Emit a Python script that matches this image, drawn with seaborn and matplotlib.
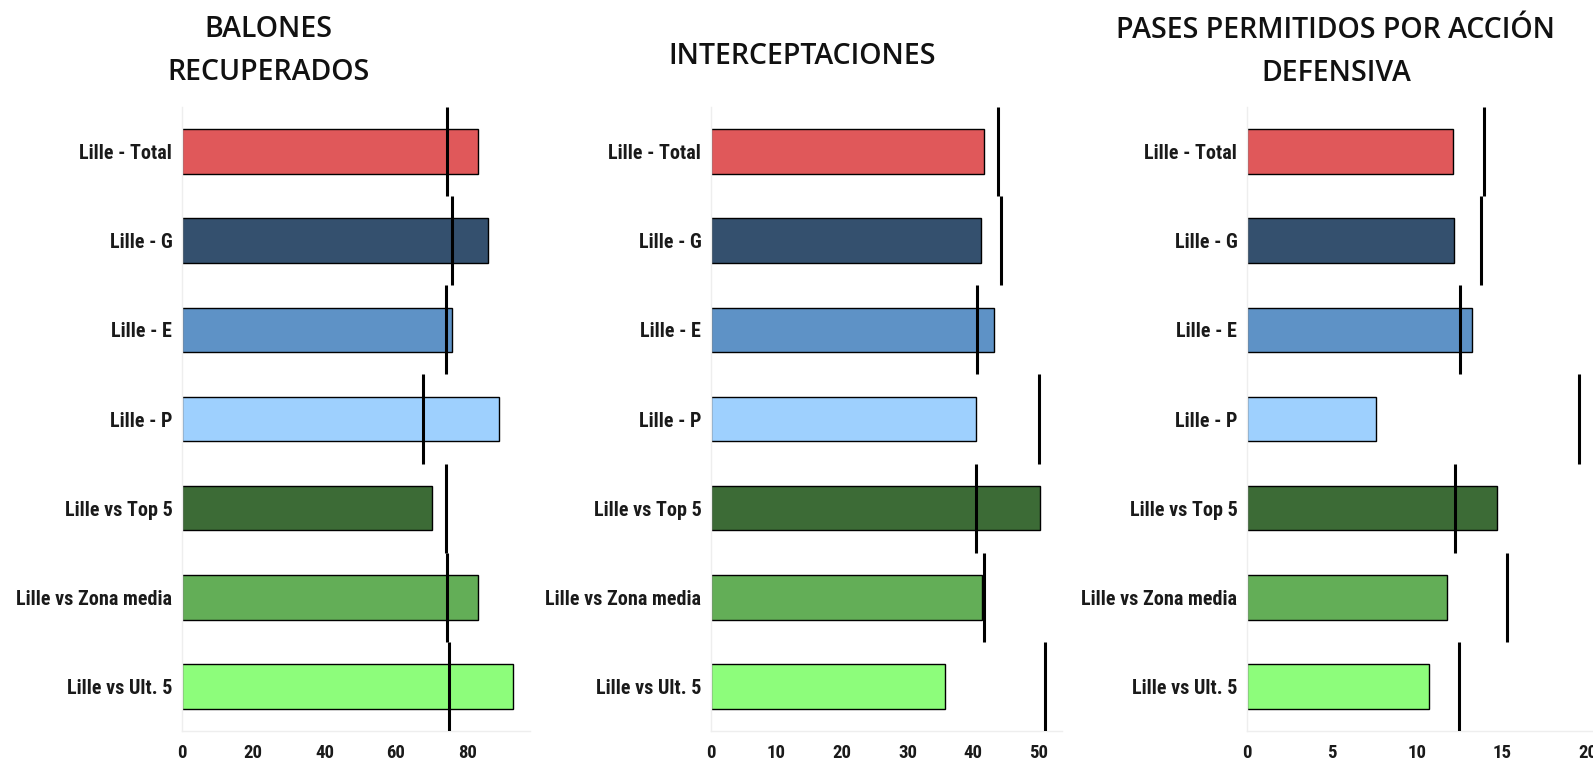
import numpy as np
import pandas as pd
import matplotlib
matplotlib.use('Agg')
import matplotlib.pyplot as plt
import seaborn as sns

# data
equipos = ['Lille - Total', 'Lille - G', 'Lille - E', 'Lille - P',
           'Lille vs Top 5', 'Lille vs Zona media', 'Lille vs Ult. 5']
colores = ['#E0585A', '#34506E', '#5E92C6', '#9ED0FE',
           '#3C6B36', '#63AE57', '#8DFD7B']

recuperados = [83.0, 85.7, 75.8, 88.9, 70.2, 83.0, 92.9]
recuperados_ref = [74.3, 75.6, 74.0, 67.6, 74.0, 74.3, 74.8]

intercepciones = [41.7, 41.2, 43.2, 40.5, 50.2, 41.4, 35.7]
intercepciones_ref = [43.8, 44.2, 40.6, 50.0, 40.4, 41.6, 51.0]

ppda = [12.08, 12.14, 13.24, 7.59, 14.67, 11.73, 10.71]
ppda_ref = [13.92, 13.76, 12.53, 19.53, 12.24, 15.27, 12.43]

titulos = ['BALONES\nRECUPERADOS', 'INTERCEPTACIONES',
           'PASES PERMITIDOS POR ACCIÓN\nDEFENSIVA']

sns.set_style('white')
plt.rcParams['font.family'] = ['Roboto Condensed', 'Roboto', 'DejaVu Sans']
plt.rcParams['font.stretch'] = 'condensed'

W, H = 1593, 759
fig = plt.figure(figsize=(W / 100, H / 100), dpi=100)

# axes boxes in pixels: left, right, top, bottom
cajas = [(182, 530, 107, 731), (711, 1062, 107, 731), (1247, 1596, 107, 731)]
centros_titulo = [(268, 51), (802, 56), (1336, 52)]

paneles = [(recuperados, recuperados_ref), (intercepciones, intercepciones_ref), (ppda, ppda_ref)]

for i, (vals, refs) in enumerate(paneles):
    l, r, t, b = cajas[i]
    ax = fig.add_axes([l / W, 1 - b / H, (r - l) / W, (b - t) / H])
    df = pd.DataFrame({'equipo': equipos, 'valor': vals, 'ref': refs})
    sns.barplot(data=df, y='equipo', x='valor', hue='equipo', palette=colores,
                saturation=1, width=0.5, edgecolor='black', linewidth=1,
                legend=False, ax=ax)
    pos = np.arange(len(equipos))
    ax.vlines(df['ref'], pos - 0.5, pos + 0.5, color='black', linewidth=2.2, zorder=5)
    ax.set_xlim(0, max(max(vals), max(refs)) * 1.05)
    ax.set_ylim(len(equipos) - 0.5, -0.5)
    ax.set_xlabel('')
    ax.set_ylabel('')
    sns.despine(ax=ax, top=True, right=True)
    for s in ['left', 'bottom']:
        ax.spines[s].set_color('#EEEEEE')
        ax.spines[s].set_linewidth(1)
    ax.tick_params(axis='y', length=0, pad=7, labelsize=14.5)
    ax.tick_params(axis='x', length=5, color='#EEEEEE', pad=4, labelsize=13.5)
    for lab in ax.get_yticklabels() + ax.get_xticklabels():
        lab.set_fontweight('bold')
        lab.set_color('#1a1a1a')

    cx, cy = centros_titulo[i]
    fig.text(cx / W, 1 - cy / H, titulos[i], ha='center', va='center',
             fontsize=20.5, family=['Open Sans', 'DejaVu Sans'], fontweight='semibold',
             fontstretch='normal', linespacing=1.62, color='#111111')

fig.savefig('out.png', dpi=100)
